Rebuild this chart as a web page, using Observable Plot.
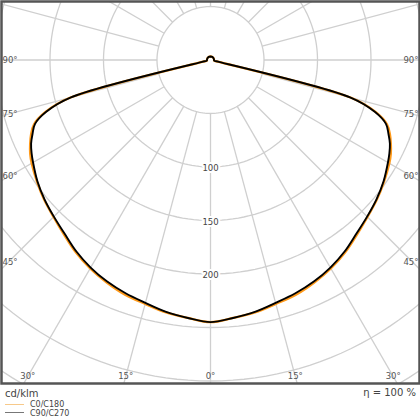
<!DOCTYPE html>
<html><head><meta charset="utf-8">
<script src="https://cdn.jsdelivr.net/npm/d3@7"></script>
<script src="https://cdn.jsdelivr.net/npm/@observablehq/plot@0.6"></script>
<style>
body{margin:0;background:#fff;font-family:"DejaVu Sans",sans-serif;}
#wrap{width:420px;}
#chart svg{display:block;}
#foot{display:block;}
</style></head><body>
<div id="wrap"><div id="chart"></div>
<svg id="foot" width="420" height="35" font-family="DejaVu Sans, sans-serif">
  <text x="5" y="9" font-size="10" fill="#444" dominant-baseline="middle">cd/klm</text>
  <text x="416" y="8" font-size="10" fill="#444" text-anchor="end" dominant-baseline="middle">η = 100 %</text>
  <line x1="5" x2="24" y1="19.5" y2="19.5" stroke="#f7c98a" stroke-width="1"/>
  <text x="30" y="19.5" font-size="8" fill="#444" dominant-baseline="middle">C0/C180</text>
  <line x1="5" x2="24" y1="27.5" y2="27.5" stroke="#777" stroke-width="1"/>
  <text x="30" y="28.5" font-size="8" fill="#444" dominant-baseline="middle">C90/C270</text>
</svg>
</div>
<script>
// ---- data (cd/klm) ----
const gammas = [0,5,10,15,20,25,30,35,40,45,50,55,60,62.5,65,67.5,70,72.5,75,77.5,80,90,100,120,150,180];
const c0c180 = [245,242,239.5,236,233.5,229.5,225,219.5,213,207.5,203,198,193,190,186,181.5,175.5,162,135.5,8,3.5,3.3,3.3,3.3,3.3,3.3];
const c90c270 = [245,242,239,235,232,228.5,224,218.5,212,207,202.5,197.5,191.5,188.5,185,180,174.5,161,135,8,3.5,3.3,3.3,3.3,3.3,3.3];
const gridRadii = [50,100,150,200,250,300,350,400];
const radialLabels = [100,150,200];
const sideLabelAngles = [45,60,75,90];
const bottomLabelAngles = [0,15,30];
const spokeAngles = d3.range(0,360,15);

// ---- geometry ----
const k = 1.07;             // px per cd/klm
const cx = 210, cy = 59.5;  // pole position in px
const W = 420, H = 385, mT = 1, mB = 2, mL = 1, mR = 1;
const rad = d => d*Math.PI/180;

function curvePoints(vals, name){
  const pts = [];
  for (let i = gammas.length-1; i >= 0; i--) pts.push({x:-vals[i]*Math.sin(rad(gammas[i])), y:-vals[i]*Math.cos(rad(gammas[i])), s:name});
  for (let i = 1; i < gammas.length; i++) pts.push({x:vals[i]*Math.sin(rad(gammas[i])), y:-vals[i]*Math.cos(rad(gammas[i])), s:name});
  return pts;
}
const circles = gridRadii.flatMap(r => d3.range(0,362,2).map(a => ({r, x:r*Math.sin(rad(a)), y:-r*Math.cos(rad(a))})));
const spokes = spokeAngles.map(a => ({x1:50*Math.sin(rad(a)), y1:-50*Math.cos(rad(a)), x2:420*Math.sin(rad(a)), y2:-420*Math.cos(rad(a))}));

const xHalf = (W/2 - mL)/k;
const yTop = (cy - mT)/k, yBot = (cy - (H - mB))/k;
const sideR = (cx - 8)/k;            // label column inset from frame
const bottomD = (376 - cy)/k;         // label row inset from frame
const sideLabels = sideLabelAngles.flatMap(a => {
  const y = a === 90 ? 0 : -sideR/Math.tan(rad(a));
  return [{x:-xHalf + 1/k, y, t:a+"°", anchor:"start"}, {x:xHalf - 1/k, y, t:a+"°", anchor:"end"}];
});
const bottomLabels = bottomLabelAngles.flatMap(a => {
  const x = bottomD*Math.tan(rad(a));
  return a === 0 ? [{x:0, y:-bottomD, t:"0°"}] : [{x:-x, y:-bottomD, t:a+"°"}, {x, y:-bottomD, t:a+"°"}];
});
const rLabels = radialLabels.map(r => ({x:0, y:-r - 1.5, t:String(r)}));

const chart = Plot.plot({
  width: W, height: H,
  marginTop: mT, marginBottom: mB, marginLeft: mL, marginRight: mR,
  x: {domain: [-xHalf, xHalf], axis: null},
  y: {domain: [yBot, yTop], axis: null},
  style: {fontFamily: "DejaVu Sans, sans-serif", background: "#fff"},
  marks: [
    Plot.line(circles, {x:"x", y:"y", z:"r", stroke:"#cfcfcf", strokeWidth:1.3, clip:true}),
    Plot.link(spokes, {x1:"x1", y1:"y1", x2:"x2", y2:"y2", stroke:"#cfcfcf", strokeWidth:1.3, clip:true}),
    Plot.text(rLabels, {x:"x", y:"y", text:"t", fontSize:8.5, fill:"#444", stroke:"white", strokeWidth:4}),
    Plot.text(sideLabels.filter(d => d.anchor === "start"), {x:"x", y:"y", text:"t", fontSize:8.5, fill:"#555", textAnchor:"start"}),
    Plot.text(sideLabels.filter(d => d.anchor === "end"), {x:"x", y:"y", text:"t", fontSize:8.5, fill:"#555", textAnchor:"end"}),
    Plot.text(bottomLabels, {x:"x", y:"y", text:"t", fontSize:8.5, fill:"#555"}),
    Plot.line(curvePoints(c0c180, "C0/C180"), {x:"x", y:"y", stroke:"#ff9a1a", strokeWidth:2.3, curve:"catmull-rom", clip:true}),
    Plot.line(curvePoints(c90c270, "C90/C270"), {x:"x", y:"y", stroke:"#000", strokeWidth:1.9, curve:"catmull-rom", clip:true}),
    Plot.frame({stroke:"#555", strokeWidth:2.5})
  ]
});
document.getElementById("chart").appendChild(chart);
</script>
</body></html>
